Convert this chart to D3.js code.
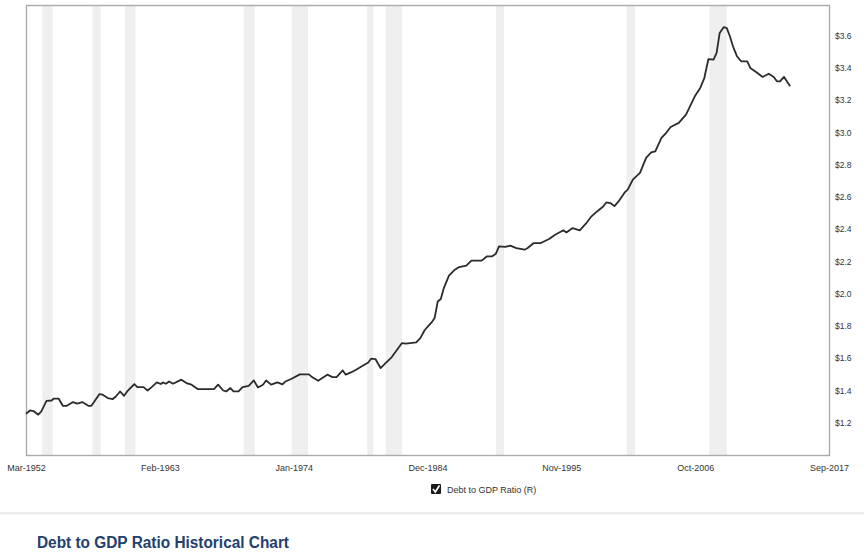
<!DOCTYPE html>
<html>
<head>
<meta charset="utf-8">
<script src="https://cdn.jsdelivr.net/npm/d3@7"></script>
<style>
  html, body { margin: 0; padding: 0; background: #fff; }
  svg { display: block; font-family: Arial, "Liberation Sans", sans-serif; }
</style>
</head>
<body>
<svg id="chart" width="864" height="559"></svg>
<script>
// ---- data ----
const dates = [
"1952-03","1952-07","1952-11","1953-03","1953-06","1953-11","1954-04","1954-06","1954-11","1955-03",
"1955-07","1956-01","1956-05","1956-10","1957-04","1957-07","1958-03","1958-06","1958-11","1959-04",
"1959-07","1959-11","1960-03","1960-06","1961-01","1961-04","1961-10","1962-02","1962-06","1962-11",
"1963-03","1963-05","1963-08","1963-11","1964-03","1964-11","1965-04","1965-09","1966-03","1967-07",
"1967-11","1968-04","1968-07","1968-11","1969-02","1969-07","1969-11","1970-05","1970-10","1971-02",
"1971-07","1971-10","1972-03","1972-09","1973-02","1973-05","1973-11","1974-07","1975-04","1975-07",
"1976-01","1976-05","1976-10","1977-03","1977-07","1978-01","1978-04","1978-09","1979-02","1979-09",
"1980-02","1980-05","1980-09","1981-02","1981-07","1982-01","1982-05","1982-11","1983-03","1984-01",
"1984-05","1984-09","1984-12","1985-04","1985-07","1985-10","1986-01","1986-04","1986-09","1987-02",
"1987-07","1988-02","1988-07","1989-05","1989-10","1990-03","1990-07","1990-10","1991-04","1991-09",
"1992-03","1992-11","1993-02","1993-08","1994-03","1994-11","1995-05","1996-01","1996-04","1996-10",
"1997-05","1997-11","1998-04","1998-10","1999-04","1999-07","1999-11","2000-03","2000-07","2001-01",
"2001-04","2001-09","2002-04","2002-10","2003-03","2003-07","2004-01","2004-05","2004-10","2005-06",
"2006-01","2006-05","2006-10","2007-03","2007-07","2007-11","2008-04","2008-07","2008-10","2009-02",
"2009-05","2009-08","2009-11","2010-03","2010-07","2011-01","2011-04","2011-10","2012-04","2012-10",
"2013-03","2013-06","2013-09","2014-01","2014-07"
];
const debtToGdp = [
1.256,1.276,1.270,1.250,1.270,1.336,1.338,1.349,1.349,1.305,
1.305,1.328,1.318,1.328,1.305,1.305,1.378,1.374,1.353,1.347,
1.363,1.394,1.367,1.394,1.440,1.421,1.421,1.400,1.421,1.450,
1.440,1.450,1.442,1.456,1.442,1.467,1.446,1.436,1.409,1.409,
1.436,1.400,1.394,1.415,1.394,1.394,1.421,1.429,1.462,1.419,
1.436,1.462,1.436,1.450,1.438,1.456,1.473,1.500,1.500,1.483,
1.460,1.477,1.498,1.483,1.483,1.524,1.498,1.512,1.529,1.555,
1.573,1.598,1.595,1.539,1.570,1.607,1.642,1.694,1.690,1.698,
1.725,1.772,1.795,1.822,1.849,1.952,1.967,2.035,2.112,2.145,
2.165,2.174,2.205,2.205,2.231,2.231,2.248,2.293,2.290,2.298,
2.283,2.273,2.283,2.314,2.314,2.339,2.366,2.393,2.380,2.407,
2.393,2.434,2.476,2.510,2.541,2.566,2.562,2.543,2.572,2.628,
2.645,2.707,2.749,2.842,2.876,2.882,2.966,2.992,3.034,3.059,
3.110,3.162,3.228,3.276,3.337,3.455,3.451,3.493,3.617,3.653,
3.647,3.596,3.534,3.472,3.441,3.441,3.400,3.373,3.344,3.364,
3.344,3.317,3.317,3.344,3.286
];
// recession shading
const recessionStart = ["1953-07","1957-08","1960-04","1969-12","1973-11","1980-01","1981-07","1990-07","2001-03","2007-12"];
const recessionEnd   = ["1954-05","1958-04","1961-02","1970-11","1975-03","1980-07","1982-11","1991-03","2001-11","2009-05"];
const xTickLabels = ["Mar-1952","Feb-1963","Jan-1974","Dec-1984","Nov-1995","Oct-2006","Sep-2017"];
const yTicks = [1.2,1.4,1.6,1.8,2.0,2.2,2.4,2.6,2.8,3.0,3.2,3.4,3.6];
const seriesName = "Debt to GDP Ratio (R)";
const chartTitle = "Debt to GDP Ratio Historical Chart";

// ---- drawing ----
const parseYM = d3.timeParse("%Y-%m");
const parseTick = d3.timeParse("%b-%Y");
const svg = d3.select("#chart");
const mLeft = 26, mRight = 829, mTop = 5, mBottom = 455;

const x = d3.scaleTime()
  .domain([parseYM("1952-03"), parseYM("2017-09")])
  .range([mLeft, mRight]);
const y = d3.scaleLinear().domain([1.0, 3.79]).range([mBottom, mTop]);

const data = dates.map((d, i) => ({ date: parseYM(d), value: debtToGdp[i] }));

// recession bands
svg.append("g").selectAll("rect")
  .data(recessionStart.map((s, i) => ({ s: parseYM(s), e: parseYM(recessionEnd[i]) })))
  .join("rect")
  .attr("x", d => x(d.s))
  .attr("width", d => x(d.e) - x(d.s))
  .attr("y", mTop)
  .attr("height", mBottom - mTop)
  .attr("fill", "#efefef");

// frame
svg.append("rect")
  .attr("x", mLeft + 0.5).attr("y", mTop + 0.5)
  .attr("width", mRight - mLeft).attr("height", mBottom - mTop)
  .attr("fill", "none").attr("stroke", "#ababab").attr("stroke-width", 1.4);

// right axis
const yAxis = d3.axisRight(y).tickValues(yTicks).tickSize(0).tickPadding(6)
  .tickFormat(d => "$" + d3.format(".1f")(d));
const gy = svg.append("g").attr("transform", `translate(${mRight},0)`).call(yAxis);
gy.select(".domain").remove();
gy.selectAll("text").attr("font-size", 8.5).attr("fill", "#333")
  .attr("font-family", "Arial, 'Liberation Sans', sans-serif");

// bottom axis
const xAxis = d3.axisBottom(x)
  .tickValues(xTickLabels.map(parseTick))
  .tickSize(0).tickPadding(10)
  .tickFormat((d, i) => xTickLabels[i]);
const gx = svg.append("g").attr("transform", `translate(0,${mBottom})`).call(xAxis);
gx.select(".domain").remove();
gx.selectAll("text").attr("font-size", 9).attr("fill", "#333")
  .attr("font-family", "Arial, 'Liberation Sans', sans-serif");

// line
const line = d3.line().x(d => x(d.date)).y(d => y(d.value)).curve(d3.curveLinear);
svg.append("path").datum(data)
  .attr("d", line)
  .attr("fill", "none")
  .attr("stroke", "#2b2b2b")
  .attr("stroke-width", 1.8)
  .attr("stroke-linejoin", "round");

// legend
const lg = svg.append("g").attr("transform", "translate(431,484)");
lg.append("rect").attr("width", 10).attr("height", 10).attr("rx", 1).attr("fill", "#1a1a1a");
lg.append("path").attr("d", "M2,5 L4.3,8 L8.5,1.5")
  .attr("fill", "none").attr("stroke", "#fff").attr("stroke-width", 1.6);
lg.append("text").attr("x", 16).attr("y", 9).attr("font-size", 9).attr("fill", "#333")
  .text(seriesName);

// separator
svg.append("rect").attr("x", 0).attr("y", 512).attr("width", 864).attr("height", 2.5).attr("fill", "#ececec");

// title
svg.append("text").attr("x", 37).attr("y", 548)
  .attr("font-size", 16).attr("font-weight", "bold").attr("fill", "#24406e")
  .attr("textLength", 252).attr("lengthAdjust", "spacingAndGlyphs")
  .text(chartTitle);
</script>
</body>
</html>
